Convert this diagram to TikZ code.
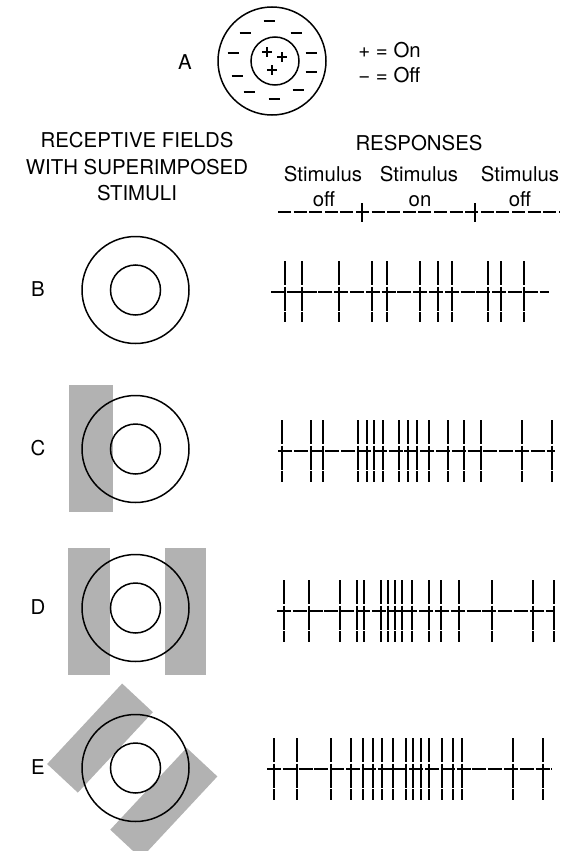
\documentclass[tikz,border=0pt]{standalone}
\usepackage{fontspec}
\setmainfont{TeX Gyre Heros}

\begin{document}
\begin{tikzpicture}[x=0.5pt,y=-0.5pt,
        lbl/.style={font=\fontsize{10.2}{12}\selectfont, inner sep=0pt, anchor=base},
        ring/.style={line width=0.75pt},
        stim/.style={fill=black!30, draw=none},
        spike/.style={line width=0.85pt, dash pattern=on 12pt off 0.8pt},
        base/.style={line width=0.7pt, dash pattern=on 7pt off 0.9pt}]
    \useasboundingbox (0,0) rectangle (569,851);

    % field A with its signs
    \node[lbl] (fa) at (185,69) {A};
    \draw[ring] (272,61) circle[radius=54];
    \draw[ring] (275,61) circle[radius=24];
    \foreach \x/\y in {269/21, 245/33, 296/33, 233/53, 311/53,
                       237/76, 311/72, 249/92, 298/90, 274/99}
        \draw[line width=0.7pt] (\x-5.5,\y) -- (\x+5.5,\y);
    \foreach \x/\y in {267/52, 282/57, 272/70}
        \draw[line width=0.7pt] (\x-5,\y) -- (\x+5,\y) (\x,\y-5) -- (\x,\y+5);
    \node[lbl, anchor=base west] (on) at (358,57) {+ = On};
    \node[lbl, anchor=base west] (off) at (358,82) {− = Off};

    % column heads
    \node[lbl] (h1) at (137,147) {RECEPTIVE FIELDS};
    \node[lbl] (h2) at (137,174) {WITH SUPERIMPOSED};
    \node[lbl] (h3) at (137,200) {STIMULI};
    \node[lbl] (resp) at (419,150) {RESPONSES};
    \node[lbl] (s1) at (323,181) {Stimulus};
    \node[lbl] (s2) at (419,181) {Stimulus};
    \node[lbl] (s3) at (520,181) {Stimulus};
    \node[lbl] (t1) at (324,206) {off};
    \node[lbl] (t2) at (420,206) {on};
    \node[lbl] (t3) at (520,206) {off};
    \draw[base, dash pattern=on 6.5pt off 1.3pt] (278,212) -- (560,212);
    \draw[line width=0.7pt] (362,203) -- (362,222) (475,203) -- (475,222);

    % stimuli bars
    \fill[stim] (69,385) rectangle (113,512);
    \fill[stim] (68,548) rectangle (110,675);
    \fill[stim] (165,548) rectangle (206,675);
    \begin{scope}[shift={(135,768)}, rotate=-43]
        \fill[stim] (-67,-53) rectangle (-25,57);
        \fill[stim] (24,-50) rectangle (66,62);
    \end{scope}

    % receptive fields B to E
    \foreach \n/\y in {B/290, C/449, D/608, E/768} {
        \node[lbl] (l\n) at (38,\y+6) {\n};
        \draw[ring] (135.5,\y) circle[radius=53.5];
        \draw[ring] (135.5,\y) circle[radius=25];
    }

    % spike trains
    \draw[base] (271,292) -- (549,292);
    \foreach \x in {285,302,339,372,387,420,438,452,488,501,524}
        \draw[spike] (\x,261) -- (\x,322);
    \draw[base] (278,451) -- (555,451);
    \foreach \x in {282,311,323,358,367,374,383,399,408,417,429,448,464,481,522,552}
        \draw[spike] (\x,420) -- (\x,482);
    \draw[base] (277,611) -- (555,611);
    \foreach \x in {284,309,340,357,364,381,388,395,402,412,429,441,459,492,533,554}
        \draw[spike] (\x,580) -- (\x,642);
    \draw[base] (267,769) -- (552,769);
    \foreach \x in {274,297,331,351,363,373,382,393,406,413,421,429,442,453,462,513,543}
        \draw[spike] (\x,738) -- (\x,800);
\end{tikzpicture}
\end{document}
